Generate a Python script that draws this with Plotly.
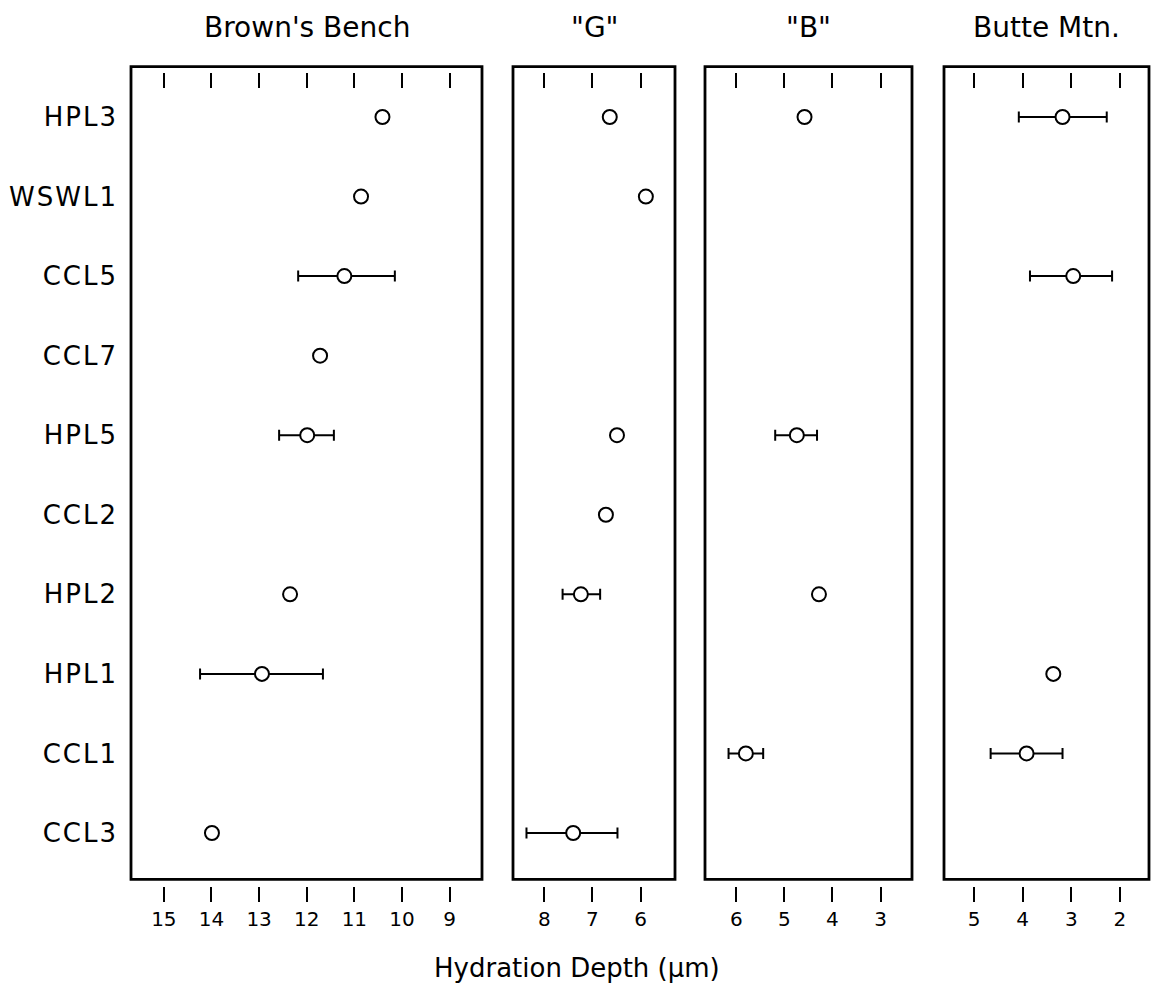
import plotly.graph_objects as go

# ---------------- data ----------------
samples = ["HPL3", "WSWL1", "CCL5", "CCL7", "HPL5", "CCL2", "HPL2", "HPL1", "CCL1", "CCL3"]

panel_titles = ["Brown's Bench", '"G"', '"B"', "Butte Mtn."]

# Brown's Bench
bb_samples = ["HPL3", "WSWL1", "CCL5", "CCL7", "HPL5", "HPL2", "HPL1", "CCL3"]
bb_depth = [10.41, 10.86, 11.21, 11.72, 11.99, 12.35, 12.94, 13.99]
bb_upper = [None, None, 12.18, None, 12.58, None, 14.24, None]
bb_lower = [None, None, 10.15, None, 11.43, None, 11.66, None]
bb_ticks = [15, 14, 13, 12, 11, 10, 9]

# "G"
g_samples = ["HPL3", "WSWL1", "HPL5", "CCL2", "HPL2", "CCL3"]
g_depth = [6.64, 5.89, 6.49, 6.72, 7.24, 7.40]
g_upper = [None, None, None, None, 7.62, 8.37]
g_lower = [None, None, None, None, 6.84, 6.48]
g_ticks = [8, 7, 6]

# "B"
b_samples = ["HPL3", "HPL5", "HPL2", "CCL1"]
b_depth = [4.58, 4.74, 4.28, 5.80]
b_upper = [None, 5.19, None, 6.16]
b_lower = [None, 4.32, None, 5.44]
b_ticks = [6, 5, 4, 3]

# Butte Mtn.
bm_samples = ["HPL3", "CCL5", "HPL1", "CCL1"]
bm_depth = [3.18, 2.96, 3.37, 3.92]
bm_upper = [4.08, 3.85, None, 4.66]
bm_lower = [2.27, 2.16, None, 3.18]
bm_ticks = [5, 4, 3, 2]

x_title = "Hydration Depth (μm)"

# ---------------- layout geometry ----------------
W, H = 1152, 992
panel_px = [(131, 482), (513, 675), (705, 912), (944, 1149)]
panel_range = [[15.69, 8.32], [8.65, 5.285], [6.65, 2.345], [5.62, 1.40]]
box_top, box_bot = 66.7, 879.3
ydom = [1 - box_bot / H, 1 - box_top / H]
yrange = [9.582, -0.632]

panels = [
    (bb_samples, bb_depth, bb_upper, bb_lower, bb_ticks),
    (g_samples, g_depth, g_upper, g_lower, g_ticks),
    (b_samples, b_depth, b_upper, b_lower, b_ticks),
    (bm_samples, bm_depth, bm_upper, bm_lower, bm_ticks),
]

fig = go.Figure()
marker = dict(symbol="circle", size=14, color="white", line=dict(color="black", width=2))

layout = dict(
    width=W, height=H,
    margin=dict(l=0, r=0, t=0, b=0),
    plot_bgcolor="white", paper_bgcolor="white",
    showlegend=False,
    font=dict(family="DejaVu Sans", color="black"),
    shapes=[], annotations=[],
)

for i, (smp, dep, up, lo, ticks) in enumerate(panels):
    sfx = "" if i == 0 else str(i + 1)
    xn, yn = "x" + sfx, "y" + sfx
    topn = "x" + str(i + 5)

    e_y, e_x, e_p, e_m = [], [], [], []
    n_y, n_x = [], []
    for s, d, u, l in zip(smp, dep, up, lo):
        if u is None:
            n_y.append(s); n_x.append(d)
        else:
            e_y.append(s); e_x.append(d); e_p.append(u - d); e_m.append(d - l)

    fig.add_trace(go.Scatter(
        x=e_x, y=e_y, mode="markers", xaxis=xn, yaxis=yn, marker=marker,
        error_x=dict(type="data", array=e_p, arrayminus=e_m, symmetric=False,
                     color="black", thickness=2, width=5.5),
        hoverinfo="x+y"))
    fig.add_trace(go.Scatter(
        x=n_x, y=n_y, mode="markers", xaxis=xn, yaxis=yn, marker=marker,
        hoverinfo="x+y"))
    # invisible trace so the top tick axis is drawn
    fig.add_trace(go.Scatter(
        x=dep, y=smp, mode="markers", xaxis=topn, yaxis=yn,
        marker=dict(opacity=0), hoverinfo="skip"))

    x0, x1 = panel_px[i]
    dom = [x0 / W, x1 / W]
    layout["xaxis" + sfx] = dict(
        domain=dom, range=panel_range[i], anchor="free", position=1 - 886 / H,
        tickmode="array", tickvals=ticks, ticktext=[str(t) for t in ticks],
        ticks="outside", ticklen=15, tickwidth=2, tickcolor="black",
        showline=False, showgrid=False, zeroline=False,
        tickfont=dict(size=20, color="black"), fixedrange=True,
    )
    layout["xaxis" + str(i + 5)] = dict(
        domain=dom, range=panel_range[i], overlaying=xn, side="top",
        anchor="free", position=1 - 72 / H,
        tickmode="array", tickvals=ticks,
        ticks="inside", ticklen=15, tickwidth=2, tickcolor="black",
        showticklabels=False, showline=False, showgrid=False, zeroline=False,
        fixedrange=True,
    )
    layout["yaxis" + sfx] = dict(
        domain=ydom, anchor=xn, range=yrange, type="category",
        categoryorder="array", categoryarray=samples,
        showgrid=False, zeroline=False, showline=False,
        ticks="", showticklabels=(i == 0), ticklabelstandoff=12,
        tickmode="array", tickvals=samples,
        ticktext=["<span style='letter-spacing:2px'>%s</span>" % s for s in samples],
        tickfont=dict(size=26, color="black"), fixedrange=True,
    )
    layout["shapes"].append(dict(
        type="rect", xref=xn + " domain", yref=yn + " domain",
        x0=0, x1=1, y0=0, y1=1, line=dict(color="black", width=2.8), layer="above"))
    layout["annotations"].append(dict(
        text=panel_titles[i], xref=xn + " domain", x=0.5, yref="paper", y=1 - 27 / H,
        xanchor="center", yanchor="middle", showarrow=False,
        font=dict(size=28, color="black")))

layout["annotations"].append(dict(
    text=x_title, xref="paper", x=577 / W, yref="paper", y=1 - 968 / H,
    xanchor="center", yanchor="middle", showarrow=False,
    font=dict(size=26, color="black")))

fig.update_layout(**layout)
fig.write_html("out.html")
